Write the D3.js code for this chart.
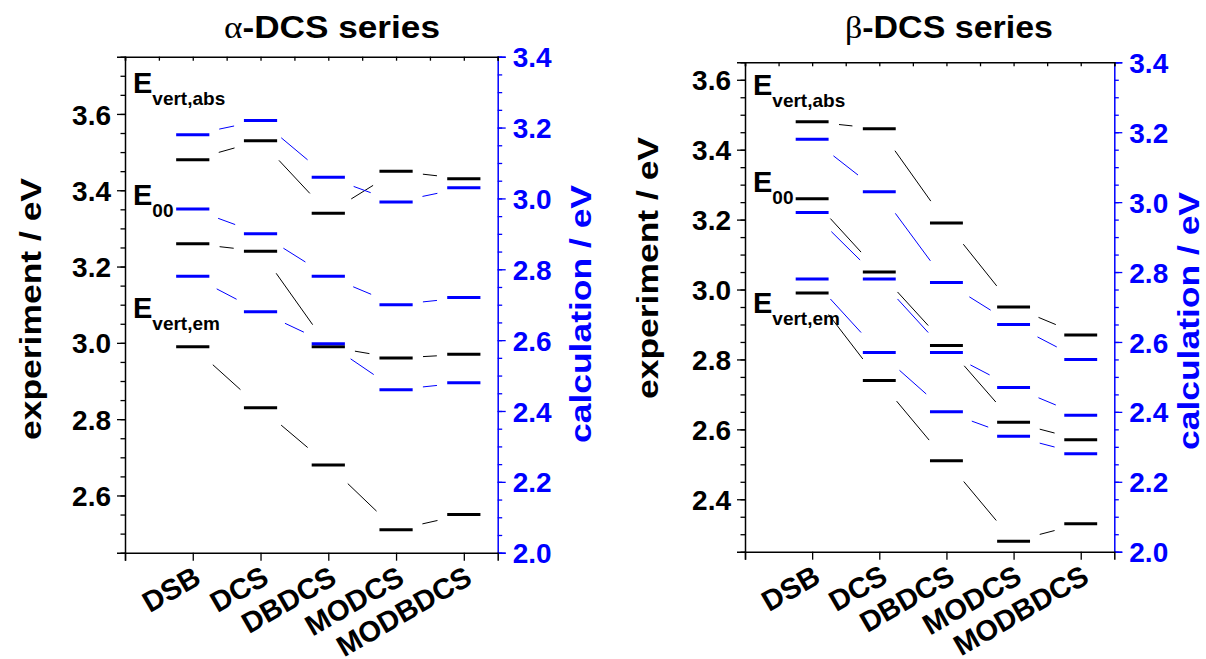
<!DOCTYPE html>
<html>
<head>
<meta charset="utf-8">
<script src="https://cdn.jsdelivr.net/npm/d3@7"></script>
<style>
  body { margin: 0; background: #fff; }
  svg text { font-family: "Liberation Sans", Arial, sans-serif; font-weight: bold; }
</style>
</head>
<body>
<svg id="chart" width="1206" height="659"></svg>
<script>
// ---- data ----
let categories = ["DSB", "DCS", "DBDCS", "MODCS", "MODBDCS"];

// alpha-DCS series, experiment (left axis)
let alphaExpAbs = [3.48, 3.53, 3.34, 3.45, 3.43];
let alphaExp00  = [3.26, 3.24, 2.99, 2.96, 2.97];
let alphaExpEm  = [2.99, 2.83, 2.68, 2.51, 2.55];
// alpha-DCS series, calculation (right axis)
let alphaCalcAbs = [3.18, 3.22, 3.06, 2.99, 3.03];
let alphaCalc00  = [2.97, 2.90, 2.78, 2.70, 2.72];
let alphaCalcEm  = [2.78, 2.68, 2.59, 2.46, 2.48];

// beta-DCS series, experiment (left axis)
let betaExpAbs = [3.48, 3.46, 3.19, 2.95, 2.87];
let betaExp00  = [3.26, 3.05, 2.84, 2.62, 2.57];
let betaExpEm  = [2.99, 2.74, 2.51, 2.28, 2.33];
// beta-DCS series, calculation (right axis)
let betaCalcAbs = [3.18, 3.03, 2.77, 2.65, 2.55];
let betaCalc00  = [2.97, 2.78, 2.57, 2.47, 2.39];
let betaCalcEm  = [2.78, 2.57, 2.40, 2.33, 2.28];

// axis ranges and tick labels
let alphaExpDomain = [2.45, 3.75];
let alphaExpTicks  = [2.6, 2.8, 3.0, 3.2, 3.4, 3.6];
let betaExpDomain  = [2.25, 3.65];
let betaExpTicks   = [2.4, 2.6, 2.8, 3.0, 3.2, 3.4, 3.6];
let calcDomain     = [2.0, 3.4];
let calcTicks      = [2.0, 2.2, 2.4, 2.6, 2.8, 3.0, 3.2, 3.4];


let svg = d3.select("#chart");
let BLUE = "#0000ff";
let HALF = 0.245;   // half width of a level bar, in category units
let GAP = 27;       // gap (px) between a level bar centre and its connector

function range(a, b, step) {
    let out = [];
    for (let v = a; v <= b + 1e-9; v += step) out.push(+v.toFixed(3));
    return out;
}

function drawLevels(g, x, y, series, color) {
    series.forEach(function (vals) {
        // connectors, centre to centre, cut back near each level
        for (let i = 0; i < vals.length - 1; i++) {
            let x1 = x(i + 1), y1 = y(vals[i]);
            let x2 = x(i + 2), y2 = y(vals[i + 1]);
            let dx = x2 - x1, dy = y2 - y1;
            let len = Math.sqrt(dx * dx + dy * dy);
            let ux = dx / len, uy = dy / len;
            g.append("line")
                .attr("x1", x1 + ux * GAP).attr("y1", y1 + uy * GAP)
                .attr("x2", x2 - ux * GAP).attr("y2", y2 - uy * GAP)
                .attr("stroke", color).attr("stroke-width", 1);
        }
        g.selectAll(null)
            .data(vals)
            .enter()
            .append("line")
            .attr("x1", function (d, i) { return x(i + 1 - HALF); })
            .attr("x2", function (d, i) { return x(i + 1 + HALF); })
            .attr("y1", function (d) { return y(d); })
            .attr("y2", function (d) { return y(d); })
            .attr("stroke", color).attr("stroke-width", 3);
    });
}

function levelLabel(g, x, y, sub) {
    let t = g.append("text").attr("x", x).attr("y", y)
        .attr("font-size", 29).attr("fill", "#000");
    t.append("tspan").text("E");
    t.append("tspan").attr("dy", 12).attr("font-size", 19).text(sub);
}

function drawPanel(p) {
    let g = svg.append("g");
    let x = d3.scaleLinear().domain([0, 5.5]).range([p.left, p.right]);
    let yL = d3.scaleLinear().domain(p.expDomain).range([p.bottom, p.top]);
    let yR = d3.scaleLinear().domain(calcDomain).range([p.bottom, p.top]);

    // left (experiment) axis
    g.append("g").attr("transform", `translate(${p.left},0)`)
        .call(d3.axisLeft(yL).tickValues(range(p.expDomain[0], p.expDomain[1], 0.05)).tickSize(4.5).tickFormat(""))
        .call(s => s.select(".domain").remove());
    g.append("g").attr("transform", `translate(${p.left},0)`)
        .call(d3.axisLeft(yL).tickValues(p.expTicks).tickSize(8).tickPadding(6).tickFormat(d3.format(".1f")))
        .call(s => s.selectAll("text").attr("font-size", 28).attr("fill", "#000").attr("dy", "0.36em"));

    // right (calculation) axis
    g.append("g").attr("transform", `translate(${p.right},0)`)
        .call(d3.axisRight(yR).tickValues(range(calcDomain[0], calcDomain[1], 0.05)).tickSize(4.5).tickFormat(""))
        .call(s => s.select(".domain").remove())
        .call(s => s.selectAll("line").attr("stroke", BLUE));
    g.append("g").attr("transform", `translate(${p.right},0)`)
        .call(d3.axisRight(yR).tickValues(calcTicks).tickSize(8).tickPadding(7).tickFormat(d3.format(".1f")))
        .call(s => s.selectAll("line,path").attr("stroke", BLUE))
        .call(s => s.selectAll("text").attr("font-size", 28).attr("fill", BLUE).attr("dy", "0.36em"));

    // top axis: small inward ticks every half category
    g.append("g").attr("transform", `translate(0,${p.top})`)
        .call(d3.axisBottom(x).tickValues(range(0, 5.5, 0.5)).tickSize(4).tickFormat(""));

    // bottom axis with category names
    g.append("g").attr("transform", `translate(0,${p.bottom})`)
        .call(d3.axisBottom(x).tickValues([0, 1, 2, 3, 4, 5]).tickSize(8).tickFormat(""));
    g.selectAll("text.cat")
        .data(categories)
        .enter()
        .append("text").classed("cat", true)
        .attr("text-anchor", "end")
        .attr("font-size", 29)
        .attr("transform", function (d, i) { return `translate(${x(i + 1) + 10},${p.bottom + 30}) rotate(-30)`; })
        .text(function (d) { return d; });

    g.selectAll(".tick line").attr("stroke-width", 1.3);
    g.selectAll(".domain").attr("stroke-width", 1.5);

    drawLevels(g, x, yL, p.exp, "#000");
    drawLevels(g, x, yR, p.calc, BLUE);

    // level names
    levelLabel(g, p.left + 8, p.labY[0], "vert,abs");
    levelLabel(g, p.left + 8, p.labY[1], "00");
    levelLabel(g, p.left + 8, p.labY[2], "vert,em");

    // title
    let t = g.append("text").attr("x", p.titleX).attr("y", 38)
        .attr("text-anchor", "middle").attr("font-size", 31)
        .attr("textLength", p.titleLen).attr("lengthAdjust", "spacingAndGlyphs");
    t.append("tspan").attr("font-family", "'Liberation Serif', serif").attr("font-weight", "normal").text(p.greek);
    t.append("tspan").text("-DCS series");

    // axis titles
    g.append("text")
        .attr("transform", `translate(${p.expLabX},${p.expLabY}) rotate(-90)`)
        .attr("text-anchor", "middle").attr("font-size", 30)
        .attr("textLength", 262).attr("lengthAdjust", "spacingAndGlyphs")
        .text("experiment / eV");
    g.append("text")
        .attr("transform", `translate(${p.calcLabX},${p.calcLabY}) rotate(-90)`)
        .attr("text-anchor", "middle").attr("font-size", 29).attr("fill", BLUE)
        .attr("textLength", 258).attr("lengthAdjust", "spacingAndGlyphs")
        .text("calculation / eV");
}

drawPanel({
    left: 125, right: 497.7, top: 56.7, bottom: 552.7,
    expDomain: alphaExpDomain, expTicks: alphaExpTicks,
    exp: [alphaExpAbs, alphaExp00, alphaExpEm],
    calc: [alphaCalcAbs, alphaCalc00, alphaCalcEm],
    labY: [93, 205, 318],
    greek: "\u03b1", titleX: 332, titleLen: 216,
    expLabX: 41, expLabY: 309, calcLabX: 591, calcLabY: 314
});

drawPanel({
    left: 745, right: 1114.3, top: 62.3, bottom: 551.7,
    expDomain: betaExpDomain, expTicks: betaExpTicks,
    exp: [betaExpAbs, betaExp00, betaExpEm],
    calc: [betaCalcAbs, betaCalc00, betaCalcEm],
    labY: [95, 192, 313],
    greek: "\u03b2", titleX: 949, titleLen: 208,
    expLabX: 658, expLabY: 268, calcLabX: 1199, calcLabY: 321
});
</script>
</body>
</html>
